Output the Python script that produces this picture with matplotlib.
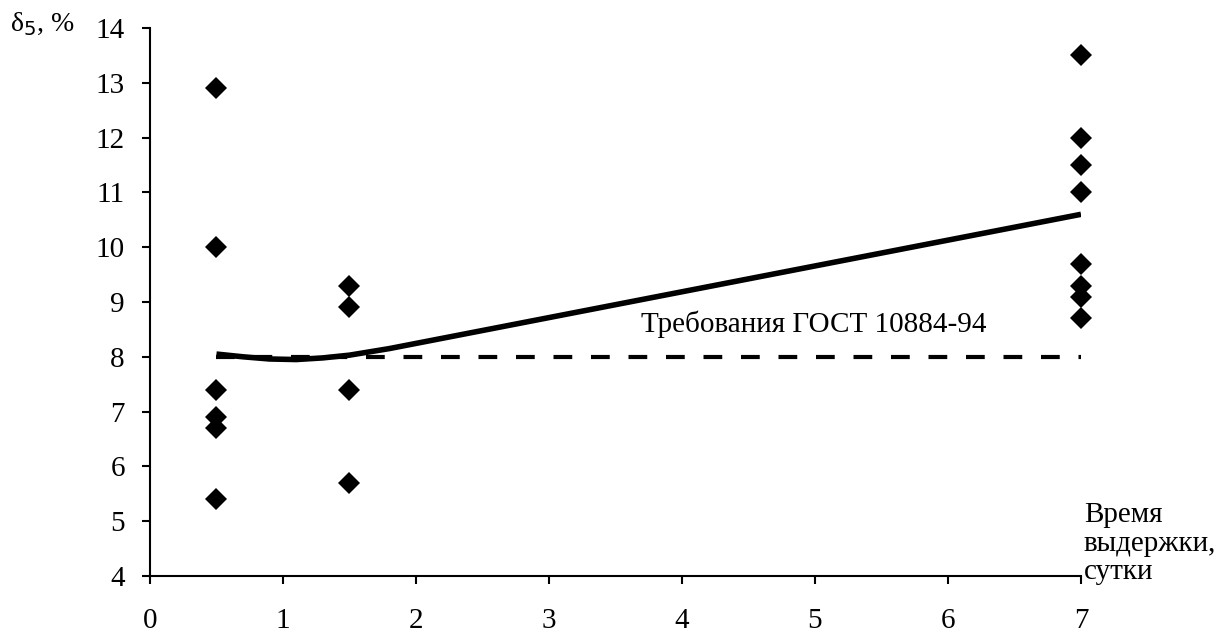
import numpy as np
import matplotlib
matplotlib.use("Agg")
import matplotlib.pyplot as plt

plt.rcParams['font.family'] = ['Liberation Serif', 'DejaVu Serif']

# измерения: время выдержки (сутки) и относительное удлинение
x_pts = [0.5, 0.5, 0.5, 0.5, 0.5, 0.5,
         1.5, 1.5, 1.5, 1.5,
         7, 7, 7, 7, 7, 7, 7, 7]
y_pts = [12.9, 10.0, 7.4, 6.9, 6.7, 5.4,
         9.3, 8.9, 7.4, 5.7,
         13.5, 12.0, 11.5, 11.0, 9.7, 9.3, 9.1, 8.7]

# сглаженная линия тренда
trend_x = [0.5, 0.7, 0.9, 1.1, 1.3, 1.5, 1.8, 7.0]
trend_y = [8.05, 8.0, 7.96, 7.95, 7.98, 8.03, 8.15, 10.6]

# требование ГОСТ
gost_x = [0.5, 7.0]
gost_y = [8, 8]

xticks = [0, 1, 2, 3, 4, 5, 6, 7]
yticks = [4, 5, 6, 7, 8, 9, 10, 11, 12, 13, 14]

fig = plt.figure(figsize=(12.26, 6.32), dpi=100)
ax = fig.add_axes([0.1223, 0.0886, 0.7594, 0.8671])

ax.plot(gost_x, gost_y, color='black', lw=3.0, ls=(0, (4.5, 4.5)), zorder=2)
ax.plot(trend_x, trend_y, color='black', lw=4.0, zorder=3, solid_capstyle='butt')
ax.plot(x_pts, y_pts, ls='none', marker='D', ms=11.5, color='black', mec='black', mew=0,
        zorder=4, clip_on=False)

ax.text(3.69, 8.6, 'Требования ГОСТ 10884-94', fontsize=21, ha='left', va='center')

ax.set_xlim(0, 7)
ax.set_ylim(4, 14)
ax.set_xticks(xticks)
ax.set_yticks(yticks)
for s in ['top', 'right']:
    ax.spines[s].set_visible(False)
for s in ['left', 'bottom']:
    ax.spines[s].set_linewidth(1.5)
ax.tick_params(axis='both', direction='out', length=6, width=1.5, labelsize=21)
ax.tick_params(axis='y', pad=12)
ax.tick_params(axis='x', pad=17)

fig.text(0.008, 0.962, 'δ$_5$, %', fontsize=20, ha='left', va='center')
fig.text(0.884, 0.205, 'Время\nвыдержки,\nсутки', fontsize=21, ha='left', va='top',
         linespacing=1.12)

fig.savefig('out.png', dpi=100)
